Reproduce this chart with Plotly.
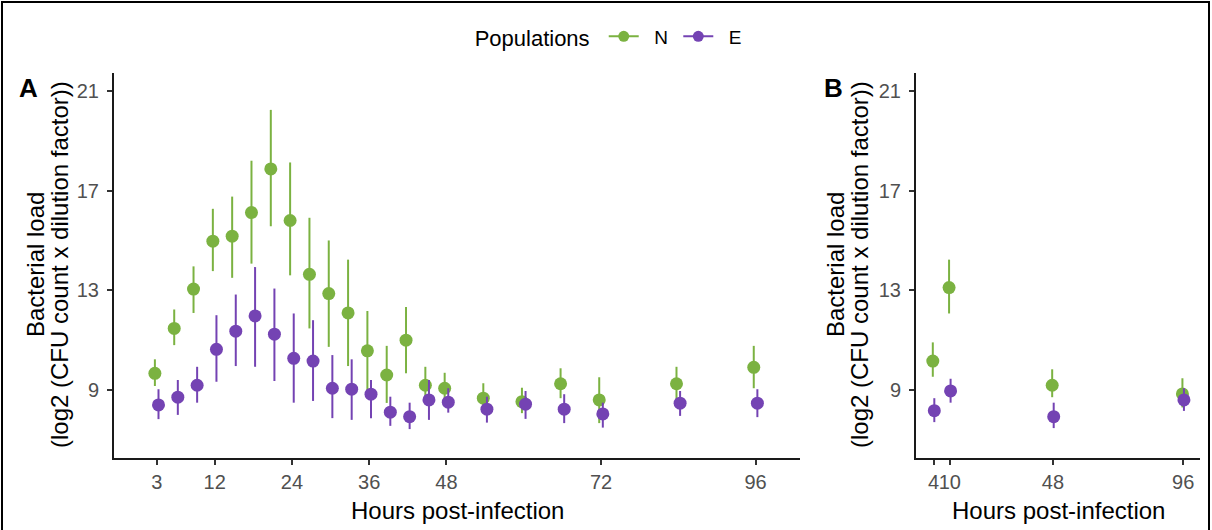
import plotly.graph_objects as go

# ---------------- data ----------------
hours_a = [3, 6, 9, 12, 15, 18, 21, 24, 27, 30, 33, 36, 39, 42, 45, 48, 54, 60, 66, 72, 84, 96]
n_mean_a = [9.67, 11.47, 13.05, 14.97, 15.17, 16.12, 17.87, 15.80, 13.64, 12.87, 12.09, 10.57,
            9.60, 11.00, 9.19, 9.07, 8.67, 8.53, 9.25, 8.60, 9.25, 9.91]
n_hi_a = [10.23, 12.23, 13.96, 16.27, 16.76, 18.20, 20.24, 18.13, 15.91, 15.00, 14.23, 12.17,
          10.77, 12.33, 9.93, 9.69, 9.27, 9.09, 9.87, 9.51, 9.93, 10.77]
n_lo_a = [9.16, 10.80, 12.09, 13.77, 13.50, 14.07, 15.57, 13.60, 11.47, 10.73, 9.96, 9.00,
          8.48, 9.67, 8.45, 8.50, 8.10, 8.07, 8.67, 7.67, 8.60, 9.07]
e_mean_a = [8.40, 8.71, 9.19, 10.63, 11.36, 11.97, 11.24, 10.27, 10.16, 9.07, 9.03, 8.83,
            8.11, 7.93, 8.60, 8.51, 8.23, 8.43, 8.23, 8.04, 8.47, 8.47]
e_hi_a = [9.03, 9.40, 9.93, 12.00, 12.83, 13.93, 13.07, 12.07, 11.80, 10.40, 10.23, 9.40,
          8.73, 8.49, 9.40, 9.07, 8.73, 8.96, 8.83, 8.49, 8.96, 9.03]
e_lo_a = [7.83, 8.00, 8.49, 9.33, 9.96, 9.93, 9.36, 8.49, 8.56, 7.87, 7.80, 7.87,
          7.56, 7.43, 7.80, 8.09, 7.69, 7.84, 7.67, 7.49, 7.96, 7.91]

hours_b = [4, 10, 48, 96]
n_mean_b = [10.16, 13.11, 9.19, 8.84]
n_hi_b = [10.91, 14.23, 9.83, 9.47]
n_lo_b = [9.53, 12.07, 8.71, 8.30]
e_mean_b = [8.17, 8.96, 7.93, 8.60]
e_hi_b = [8.67, 9.45, 8.49, 9.07]
e_lo_b = [7.71, 8.49, 7.47, 8.16]

xticks_a = [3, 12, 24, 36, 48, 72, 96]
xticks_b = [4, 10, 48, 96]
yticks = [9, 13, 17, 21]

# ---------------- style ----------------
GREEN = "#7BB241"
PURPLE = "#7443B3"
FONT = "Liberation Sans, Arial, sans-serif"
W, H = 1212, 530
ML, MR, MT, MB = 114, 12, 73, 72
PW, PH = W - ML - MR, H - MT - MB
DODGE = 0.28
TITLE_SIZE = 24


def px2x(px):
    return (px - ML) / PW


def px2y(py):
    return (H - MB - py) / PH


fig = go.Figure()


def add_series(hours, mean, hi, lo, color, xa, ya, offset):
    fig.add_trace(go.Scatter(
        x=[h + offset for h in hours], y=mean, mode="markers",
        marker=dict(color=color, size=13),
        error_y=dict(type="data", symmetric=False,
                     array=[h - m for h, m in zip(hi, mean)],
                     arrayminus=[m - l for m, l in zip(mean, lo)],
                     color=color, thickness=2, width=0),
        xaxis=xa, yaxis=ya, showlegend=False, hoverinfo="x+y"))


add_series(hours_a, n_mean_a, n_hi_a, n_lo_a, GREEN, "x", "y", -DODGE)
add_series(hours_a, e_mean_a, e_hi_a, e_lo_a, PURPLE, "x", "y", DODGE)
add_series(hours_b, n_mean_b, n_hi_b, n_lo_b, GREEN, "x2", "y2", -DODGE)
add_series(hours_b, e_mean_b, e_hi_b, e_lo_b, PURPLE, "x2", "y2", DODGE)

# legend entries
for name, color in [("\u00a0\u00a0N\u00a0", GREEN), ("\u00a0\u00a0E", PURPLE)]:
    fig.add_trace(go.Scatter(x=[None], y=[None], mode="lines+markers", name=name,
                             marker=dict(color=color, size=11),
                             line=dict(color=color, width=2)))

axis_common = dict(showline=True, linecolor="#1a1a1a", linewidth=2,
                   ticks="outside", ticklen=5, tickwidth=1.5, tickcolor="#333333",
                   showgrid=False, zeroline=False, tickangle=0,
                   tickfont=dict(family=FONT, size=20, color="#505050"))

dom_a = [0, px2x(800)]
dom_b = [px2x(916), 1]

fig.update_layout(
    width=W, height=H,
    margin=dict(l=ML, r=MR, t=MT, b=MB, autoexpand=False),
    paper_bgcolor="white", plot_bgcolor="white",
    font=dict(family=FONT, color="black"),
    xaxis=dict(domain=dom_a, range=[-3.63, 102.9], tickvals=xticks_a,
               ticktext=[str(v) for v in xticks_a], anchor="y", **axis_common),
    yaxis=dict(domain=[0, 1], range=[6.27, 21.72], tickvals=yticks, anchor="x",
               ticklabelstandoff=4, **axis_common),
    xaxis2=dict(domain=dom_b, range=[-2.47, 102.2], tickvals=xticks_b,
                ticktext=[str(v) for v in xticks_b], anchor="y2", **axis_common),
    yaxis2=dict(domain=[0, 1], range=[6.27, 21.72], tickvals=yticks, anchor="x2",
                ticklabelstandoff=4, **axis_common),
    legend=dict(orientation="h", xref="container", yref="container",
                x=0.503, xanchor="center", y=(H - 37) / H, yanchor="middle",
                title=dict(text="Populations\u00a0", font=dict(family=FONT, size=22, color="black")),
                font=dict(family=FONT, size=19, color="black"),
                itemwidth=30, bgcolor="rgba(0,0,0,0)"),
)

annotations = []
# x titles
for cx in [(114 + 800) / 2, (916 + 1200) / 2]:
    annotations.append(dict(text="Hours post-infection", xref="paper", yref="paper",
                            x=px2x(cx), y=px2y(510), showarrow=False,
                            xanchor="center", yanchor="middle",
                            font=dict(family=FONT, size=TITLE_SIZE, color="black")))
# y titles (two lines each)
for x1, x2 in [(35, 59), (835, 859)]:
    annotations.append(dict(text="Bacterial load", xref="paper", yref="paper",
                            x=px2x(x1), y=px2y(265), showarrow=False, textangle=-90,
                            xanchor="center", yanchor="middle",
                            font=dict(family=FONT, size=TITLE_SIZE, color="black")))
    annotations.append(dict(text="(log2 (CFU count x dilution factor))", xref="paper", yref="paper",
                            x=px2x(x2), y=px2y(265), showarrow=False, textangle=-90,
                            xanchor="center", yanchor="middle",
                            font=dict(family=FONT, size=TITLE_SIZE, color="black")))
# panel tags
for tag, cx in [("A", 28), ("B", 833)]:
    annotations.append(dict(text="<b>%s</b>" % tag, xref="paper", yref="paper",
                            x=px2x(cx), y=px2y(88), showarrow=False,
                            xanchor="center", yanchor="middle",
                            font=dict(family=FONT, size=26, color="black")))
fig.update_layout(annotations=annotations)

# outer frame
fig.add_shape(type="rect", xref="paper", yref="paper",
              x0=px2x(2), x1=px2x(1209), y0=px2y(540), y1=px2y(2),
              line=dict(color="black", width=2), fillcolor="rgba(0,0,0,0)", layer="above")

fig.write_html("out.html")
